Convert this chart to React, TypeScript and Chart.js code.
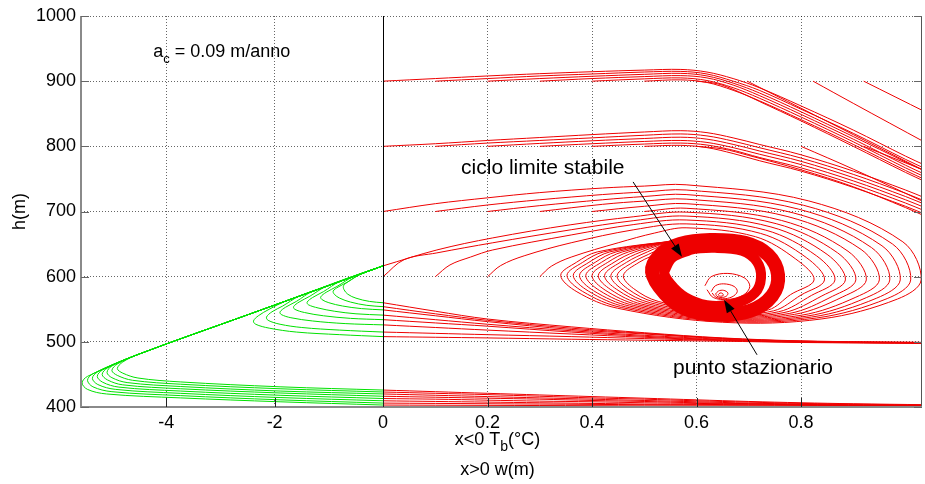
import React, { useEffect, useRef } from "react";
import { Chart, registerables } from "chart.js";

Chart.register(...registerables);

type P = [number, number];

// ---- axes ----
const TB_TO_W = 0.10383; // width of 1 °C of Tb on the shared x axis, in w units
const X_MIN_TB = -5.57;
const X_MAX_W = 1.0316;
const Y_MIN = 400;
const Y_MAX = 1000;
const Y_TICKS = [400, 500, 600, 700, 800, 900, 1000];
const X_TICKS_TB = [-4, -2];
const X_TICKS_W = [0, 0.2, 0.4, 0.6, 0.8];

// ---- green trajectories (x<0 : Tb, h) ----
const DIAG: P[] = [[0, 616.6], [-1, 586.5], [-2.5, 541.4], [-4.5, 481.2]];
const GT0: P[] = [[-5.45, 447], [-5.55, 437], [-5.45, 427], [-5.1, 420], [-3.74, 414], [-1.9, 408], [0, 403]];
const GT1: P[] = [[-5.35, 451], [-5.45, 441], [-5.35, 431], [-5.0, 423.5], [-3.74, 417.5], [-1.9, 411], [0, 406]];
const GT2: P[] = [[-5.26, 454], [-5.36, 444], [-5.26, 434.5], [-4.93, 427], [-3.74, 421], [-1.9, 414.5], [0, 409.5]];
const GT3: P[] = [[-5.17, 457], [-5.27, 447], [-5.17, 438], [-4.87, 430.5], [-3.74, 424.5], [-1.9, 418], [0, 413]];
const GT4: P[] = [[-5.08, 460], [-5.18, 450], [-5.08, 441.5], [-4.8, 434], [-3.74, 428], [-1.9, 421.5], [0, 416.5]];
const GT5: P[] = [[-5.0, 463], [-5.09, 453], [-5.0, 445], [-4.72, 437.5], [-3.74, 431.5], [-1.9, 424.5], [0, 420]];
const GT6: P[] = [[-4.9, 466], [-5.0, 456], [-4.9, 448.5], [-4.62, 441], [-3.74, 435], [-1.9, 428], [0, 423]];
const GT7: P[] = [[-4.8, 469], [-4.9, 459], [-4.8, 452], [-4.52, 444.5], [-3.74, 438.5], [-1.9, 431], [0, 426]];

const GC0: P[] = [[0, 508], [-0.8, 511], [-1.6, 515], [-2.1, 521], [-2.35, 527], [-2.39, 532], [-2.3, 540], [-2.1, 550], [-1.8, 562.4], [-1, 586.5], [0, 616.6]];
const GC1: P[] = [[0, 515], [-0.8, 518], [-1.5, 522], [-1.9, 527], [-2.12, 533], [-2.15, 538], [-2.05, 546], [-1.85, 555], [-1.55, 569.9], [-1, 586.5], [0, 616.6]];
const GC2: P[] = [[0, 526], [-0.7, 528], [-1.3, 532], [-1.7, 537], [-1.88, 542], [-1.9, 546], [-1.8, 553], [-1.6, 562], [-1.3, 577.5], [0, 616.6]];
const GC3: P[] = [[0, 534], [-0.6, 536], [-1.1, 540], [-1.45, 545], [-1.63, 550], [-1.65, 554], [-1.55, 561], [-1.35, 570], [-1.05, 585], [0, 616.6]];
const GC4: P[] = [[0, 541], [-0.5, 543], [-0.9, 547], [-1.2, 552], [-1.38, 557], [-1.4, 561], [-1.3, 568], [-1.1, 577], [-0.8, 592.5], [0, 616.6]];
const GC5: P[] = [[0, 549], [-0.4, 551], [-0.75, 555], [-1.0, 560], [-1.13, 565], [-1.15, 569], [-1.05, 576], [-0.85, 585], [-0.55, 600], [0, 616.6]];
const GC6: P[] = [[0, 554], [-0.3, 556], [-0.6, 561], [-0.8, 567], [-0.9, 573], [-0.92, 578], [-0.83, 584], [-0.65, 592], [-0.4, 604.6], [0, 616.6]];
const GC7: P[] = [[0, 560], [-0.25, 562], [-0.5, 567], [-0.65, 573], [-0.72, 580], [-0.73, 586], [-0.65, 592], [-0.5, 600], [-0.3, 607.6], [0, 616.6]];

// ---- red trajectories (x>0 : w, h) ----
const A0: P[] = [[0, 900], [0.1, 904], [0.2, 908], [0.3, 911.5], [0.4, 914.5], [0.5, 917], [0.57, 918], [0.62, 914], [0.67, 904], [0.72, 890], [0.8, 862], [0.9, 825], [1.0, 785], [1.04, 770]];
const A1: P[] = [[0.1, 900], [0.2, 904], [0.3, 908], [0.4, 911], [0.5, 914], [0.57, 915], [0.62, 911], [0.67, 900], [0.72, 886], [0.8, 857], [0.9, 820], [1.0, 780], [1.04, 765]];
const A2: P[] = [[0.2, 900], [0.3, 904], [0.4, 907.5], [0.5, 910.5], [0.57, 912], [0.62, 908], [0.67, 897], [0.72, 882], [0.8, 853], [0.9, 815], [1.0, 776], [1.04, 761]];
const A3: P[] = [[0.3, 900], [0.4, 904], [0.5, 907], [0.57, 908.5], [0.62, 905], [0.67, 894], [0.72, 878], [0.8, 849], [0.9, 811], [1.0, 771], [1.04, 756]];
const A4: P[] = [[0.4, 900], [0.5, 903.5], [0.57, 905], [0.62, 901], [0.67, 890], [0.72, 874], [0.8, 845], [0.9, 807], [1.0, 767], [1.04, 752]];
const A5: P[] = [[0.5, 900], [0.57, 902], [0.62, 898], [0.67, 886], [0.72, 870], [0.8, 841], [0.9, 803], [1.0, 763], [1.04, 748]];
const A6: P[] = [[0.6, 900], [0.64, 896], [0.68, 884], [0.72, 869], [0.8, 839], [0.9, 800], [1.0, 760], [1.04, 745]];
const A7: P[] = [[0.697, 900], [0.8, 858.5], [0.9, 818], [1.04, 761]];
const A8: P[] = [[0.823, 900], [0.9, 866], [1.04, 805]];
const A9: P[] = [[0.92, 900], [1.04, 852]];

const B0: P[] = [[0, 800], [0.1, 804], [0.2, 809], [0.3, 813.5], [0.4, 818], [0.5, 822], [0.57, 824], [0.62, 821], [0.67, 813], [0.72, 803], [0.8, 787], [0.9, 762], [1.0, 733], [1.04, 720]];
const B1: P[] = [[0.1, 800], [0.2, 805], [0.3, 809], [0.4, 813], [0.5, 817], [0.57, 819], [0.62, 816], [0.67, 808], [0.72, 798], [0.8, 782], [0.9, 757], [1.0, 728], [1.04, 715]];
const B2: P[] = [[0.2, 800], [0.3, 804.5], [0.4, 808.5], [0.5, 812], [0.57, 814], [0.62, 811], [0.67, 803], [0.72, 793], [0.8, 777], [0.9, 752], [1.0, 723], [1.04, 710]];
const B3: P[] = [[0.3, 800], [0.4, 804], [0.5, 807.5], [0.57, 809], [0.62, 806], [0.67, 798], [0.72, 788], [0.8, 772], [0.9, 747], [1.0, 718], [1.04, 705]];
const B4: P[] = [[0.4, 800], [0.5, 803.5], [0.57, 805], [0.62, 802], [0.67, 794], [0.72, 783], [0.8, 767], [0.9, 742], [1.0, 713], [1.04, 700]];
const B5: P[] = [[0.5, 800], [0.57, 801.5], [0.62, 798], [0.67, 789], [0.72, 778], [0.8, 762], [0.9, 737], [1.0, 708], [1.04, 695]];
const B6: P[] = [[0.6, 800], [0.65, 796], [0.7, 786], [0.8, 764], [0.9, 738], [1.0, 706], [1.04, 692]];
const B7: P[] = [[0.8, 800], [0.9, 765], [1.04, 713]];
const B8: P[] = [[0.92, 800], [1.04, 762]];

const C0: P[] = [[0, 700], [0.1, 712], [0.2, 721], [0.3, 729], [0.42, 736], [0.5, 739], [0.58, 741], [0.815, 716.2], [0.995, 653.4], [1.03, 595], [0.985, 565.8], [0.84, 535.2], [0.65, 530], [0.4485, 551.6], [0.371, 576.8], [0.34, 602], [0.37, 622], [0.41, 638], [0.56, 655], [0.64, 659]];
const C1: P[] = [[0.1, 700], [0.2, 710], [0.3, 718], [0.42, 726], [0.5, 730], [0.58, 733], [0.805, 709.5], [0.975, 650.2], [1.01, 595], [0.965, 566.4], [0.83, 536.6], [0.65, 531.5], [0.456, 552.7], [0.382, 577.3], [0.352, 602], [0.382, 622], [0.422, 638], [0.56, 655], [0.64, 659]];
const C2: P[] = [[0.2, 700], [0.3, 709], [0.42, 718], [0.5, 723], [0.58, 726], [0.795, 703.7], [0.955, 647.4], [0.99, 595], [0.945, 567.1], [0.82, 538], [0.65, 533], [0.464, 553.7], [0.393, 577.9], [0.364, 602], [0.394, 622], [0.434, 638], [0.56, 655], [0.64, 659]];
const C3: P[] = [[0.3, 700], [0.42, 711], [0.5, 716], [0.58, 719], [0.785, 697.9], [0.935, 644.6], [0.97, 595], [0.925, 567.8], [0.81, 539.3], [0.65, 534.5], [0.472, 554.8], [0.403, 578.4], [0.376, 602], [0.406, 622], [0.446, 638], [0.56, 655], [0.64, 659]];
const C4: P[] = [[0.4, 700], [0.5, 708], [0.58, 712], [0.775, 692.1], [0.915, 641.8], [0.95, 595], [0.905, 568.5], [0.8, 540.7], [0.65, 536], [0.48, 555.8], [0.414, 578.9], [0.388, 602], [0.418, 622], [0.458, 638], [0.56, 655], [0.64, 659]];
const C5: P[] = [[0.5, 700], [0.58, 705], [0.7625, 686.3], [0.89, 639], [0.925, 595], [0.88, 569.1], [0.7875, 542.1], [0.65, 537.5], [0.4875, 556.9], [0.425, 579.4], [0.4, 602], [0.43, 622], [0.47, 638], [0.56, 655], [0.64, 659]];
const D0: P[] = [[0, 616.6], [0.103, 641], [0.21, 659.5], [0.358, 679.5], [0.48, 692], [0.58, 699], [0.7525, 681.3], [0.87, 636.6], [0.905, 595], [0.86, 569.8], [0.7775, 543.5], [0.65, 539], [0.495, 557.9], [0.436, 580], [0.412, 602], [0.442, 622], [0.482, 638], [0.56, 655], [0.64, 659]];
const F3: P[] = [[0, 600], [0.04, 626], [0.103, 636.5], [0.21, 652], [0.36, 672], [0.48, 686], [0.58, 693], [0.7425, 676.3], [0.85, 634.2], [0.885, 595], [0.84, 570.5], [0.7675, 544.9], [0.65, 540.5], [0.503, 559], [0.447, 580.5], [0.424, 602], [0.454, 622], [0.494, 638], [0.56, 655], [0.64, 659]];
const F0: P[] = [[0.1, 600], [0.128, 618], [0.167, 630], [0.21, 641], [0.36, 664], [0.48, 680], [0.58, 687], [0.7325, 671.4], [0.83, 631.8], [0.865, 595], [0.82, 571.2], [0.7575, 546.2], [0.65, 542], [0.511, 560], [0.457, 581], [0.436, 602], [0.466, 622], [0.506, 638], [0.56, 655], [0.64, 659]];
const F1: P[] = [[0.2, 600], [0.225, 617], [0.27, 632], [0.36, 652], [0.48, 672], [0.58, 681], [0.7225, 666.4], [0.81, 629.4], [0.845, 595], [0.8, 571.8], [0.7475, 547.6], [0.65, 543.5], [0.519, 561.1], [0.468, 581.5], [0.448, 602], [0.478, 622], [0.518, 638], [0.56, 655], [0.64, 659]];
const F2: P[] = [[0.3, 600], [0.322, 616], [0.36, 630], [0.45, 652], [0.52, 667], [0.58, 675], [0.7125, 661.4], [0.79, 627], [0.825, 595], [0.78, 572.5], [0.7375, 549], [0.65, 545], [0.5265, 562.1], [0.479, 582], [0.46, 602], [0.49, 622], [0.53, 638], [0.56, 655], [0.64, 659]];

const E0: P[] = [[0, 560], [0.1, 547], [0.2, 535], [0.36, 523], [0.5, 514], [0.65, 506], [0.8, 501.5], [1.04, 499]];
const E1: P[] = [[0, 554], [0.1, 543], [0.2, 533], [0.36, 521], [0.5, 513], [0.65, 505.5], [0.8, 501], [1.04, 499]];
const E2: P[] = [[0, 549], [0.1, 540], [0.2, 531], [0.36, 519], [0.5, 512], [0.65, 505], [0.8, 501], [1.04, 498.5]];
const E3: P[] = [[0, 541], [0.1, 534], [0.2, 527], [0.36, 517], [0.5, 510], [0.65, 504], [0.8, 500.5], [1.04, 498.5]];
const E4: P[] = [[0, 534], [0.1, 529], [0.2, 524], [0.36, 515], [0.5, 508.5], [0.65, 503], [0.8, 500], [1.04, 498]];
const E5: P[] = [[0, 526], [0.1, 522], [0.2, 518], [0.36, 512], [0.5, 507], [0.65, 502.5], [0.8, 500], [1.04, 498]];
const E6: P[] = [[0, 515], [0.1, 513], [0.2, 511], [0.36, 508], [0.5, 505], [0.65, 502], [0.8, 499.5], [1.04, 498]];
const E7: P[] = [[0, 508], [0.1, 507], [0.2, 506], [0.36, 504], [0.5, 502.5], [0.65, 501], [0.8, 499], [1.04, 497.5]];

const G0: P[] = [[0, 426], [0.1, 423.5], [0.2, 421], [0.3, 418.5], [0.4, 416], [0.5, 413.5], [0.6, 411], [0.7, 408.5], [0.8, 406.5], [0.9, 405], [1.04, 403.5]];
const G1: P[] = [[0, 423], [0.1, 421], [0.2, 419], [0.3, 416.5], [0.4, 414], [0.5, 412], [0.6, 409.5], [0.7, 407.5], [0.8, 405.5], [1.04, 403]];
const G2: P[] = [[0, 420], [0.1, 418], [0.2, 416], [0.3, 414], [0.4, 412], [0.5, 410], [0.6, 408], [0.7, 406], [0.8, 404.5], [1.04, 402.5]];
const G3: P[] = [[0, 416.5], [0.1, 415], [0.2, 413.5], [0.3, 412], [0.4, 410], [0.5, 408.5], [0.6, 406.5], [0.8, 404], [1.04, 402]];
const G4: P[] = [[0, 413], [0.1, 412], [0.2, 410.5], [0.3, 409], [0.4, 408], [0.5, 406.5], [0.6, 405.5], [0.8, 403.5], [1.04, 402]];
const G5: P[] = [[0, 409.5], [0.1, 408.5], [0.2, 407.5], [0.3, 406.5], [0.4, 405.5], [0.5, 404.5], [0.6, 404], [0.8, 403], [1.04, 401.5]];
const G6: P[] = [[0, 406], [0.2, 405], [0.4, 404], [0.6, 403], [0.8, 402.5], [1.04, 401.5]];
const G7: P[] = [[0, 403], [0.2, 402.5], [0.4, 402], [0.6, 401.5], [1.04, 401]];

// limit cycle (dense band; first points repeated at the end to close smoothly) and stationary spiral
const LC_OUTER: P[] = [[0.5148, 607.4], [0.5301, 633.5], [0.5684, 650.3], [0.6258, 656.4], [0.6928, 651.9], [0.7368, 633.5], [0.756, 602.8], [0.7445, 570.6], [0.7024, 547.6], [0.6354, 541.5], [0.578, 550.7], [0.5397, 573.6], [0.5148, 607.4], [0.5301, 633.5], [0.5684, 650.3]];
const LC_INNER: P[] = [[0.5378, 607.4], [0.5531, 628.8], [0.5876, 641.1], [0.6354, 644.2], [0.6871, 639.6], [0.7158, 622.7], [0.7234, 598.2], [0.712, 575.2], [0.6775, 559.8], [0.6297, 555.2], [0.5876, 564.5], [0.5569, 582.8], [0.5378, 607.4], [0.5531, 628.8], [0.5876, 641.1]];
const S1: P[] = [[0.616, 586], [0.628, 600], [0.66, 605], [0.692, 598], [0.702, 585], [0.69, 572], [0.66, 565], [0.632, 568], [0.62, 580]];
const S2: P[] = [[0.628, 577], [0.636, 586], [0.652, 589], [0.672, 585], [0.678, 577], [0.668, 569], [0.65, 566], [0.636, 569], [0.63, 575]];
const S3: P[] = [[0.636, 573], [0.642, 578], [0.652, 579], [0.66, 575], [0.657, 570], [0.647, 568], [0.639, 570], [0.637, 573]];
const S4: P[] = [[0.641, 572], [0.645, 575], [0.65, 574], [0.651, 571], [0.646, 570], [0.642, 571]];

const GREEN_CURVES: P[][] = [
  [...DIAG, ...GT0], [...DIAG, ...GT1], [...DIAG, ...GT2], [...DIAG, ...GT3],
  [...DIAG, ...GT4], [...DIAG, ...GT5], [...DIAG, ...GT6], [...DIAG, ...GT7],
  GC0, GC1, GC2, GC3, GC4, GC5, GC6, GC7,
];
const RED_CURVES: P[][] = [
  A0, A1, A2, A3, A4, A5, A6, A7, A8, A9,
  B0, B1, B2, B3, B4, B5, B6, B7, B8,
  C0, C1, C2, C3, C4, C5, D0, F3, F0, F1, F2,
  E0, E1, E2, E3, E4, E5, E6, E7,
  G0, G1, G2, G3, G4, G5, G6, G7,
  S1, S2, S3, S4,
];
const BAND_CURVES: P[][] = [LC_OUTER, LC_INNER];
const BAND_WIDTHS = [14, 10];

// annotations (data coordinates)
const AC_LABEL = { tb: -4.24, h: 944.8 };
const ANN_CICLO = { text: "ciclo limite stabile", w: 0.1493, h: 766.9, from: [0.4785, 745.4], to: [0.5722, 630.4] };
const ANN_PUNTO = { text: "punto stazionario", w: 0.555, h: 460.1, from: [0.7158, 480.1], to: [0.6526, 564.4] };

const FONT = '"Liberation Sans", Arial, Helvetica, sans-serif';
const RED = "rgb(238,0,0)";
const GREEN = "rgb(0,225,0)";

type Part = { t: string; sub?: boolean };
function richWidth(ctx: CanvasRenderingContext2D, parts: Part[], size: number, subSize: number) {
  let w = 0;
  for (const p of parts) {
    ctx.font = `${p.sub ? subSize : size}px ${FONT}`;
    w += ctx.measureText(p.t).width;
  }
  return w;
}
function drawRich(ctx: CanvasRenderingContext2D, parts: Part[], x: number, y: number, size: number, subSize: number, subDy: number) {
  let cx = x;
  ctx.textBaseline = "middle";
  ctx.textAlign = "left";
  for (const p of parts) {
    ctx.font = `${p.sub ? subSize : size}px ${FONT}`;
    ctx.fillText(p.t, cx, p.sub ? y + subDy : y);
    cx += ctx.measureText(p.t).width;
  }
}
function drawArrow(ctx: CanvasRenderingContext2D, x1: number, y1: number, x2: number, y2: number) {
  ctx.strokeStyle = "#000";
  ctx.fillStyle = "#000";
  ctx.lineWidth = 1;
  const ang = Math.atan2(y2 - y1, x2 - x1);
  const len = 13, hw = 4.5;
  const bx = x2 - Math.cos(ang) * len, by = y2 - Math.sin(ang) * len;
  ctx.beginPath();
  ctx.moveTo(x1, y1);
  ctx.lineTo(bx, by);
  ctx.stroke();
  ctx.beginPath();
  ctx.moveTo(x2, y2);
  ctx.lineTo(bx + Math.sin(ang) * hw, by - Math.cos(ang) * hw);
  ctx.lineTo(bx - Math.sin(ang) * hw, by + Math.cos(ang) * hw);
  ctx.closePath();
  ctx.fill();
}

const decoPlugin = {
  id: "deco",
  afterDatasetsDraw(chart: any) {
    const { ctx, chartArea: a, scales } = chart;
    const xs = scales.x, ys = scales.y;
    ctx.save();
    // x = 0 separator
    const x0 = Math.round(xs.getPixelForValue(0)) + 0.5;
    ctx.strokeStyle = "#000";
    ctx.lineWidth = 1;
    ctx.beginPath();
    ctx.moveTo(x0, a.top);
    ctx.lineTo(x0, a.bottom);
    ctx.stroke();
    // right border
    ctx.strokeStyle = "#555";
    ctx.beginPath();
    ctx.moveTo(a.right - 0.5, a.top);
    ctx.lineTo(a.right - 0.5, a.bottom);
    ctx.stroke();
    // left & bottom axes
    ctx.strokeStyle = "#8a8a8a";
    ctx.lineWidth = 2;
    ctx.beginPath();
    ctx.moveTo(a.left, a.top);
    ctx.lineTo(a.left, a.bottom);
    ctx.lineTo(a.right, a.bottom);
    ctx.stroke();
    // inward ticks
    ctx.lineWidth = 1;
    ctx.strokeStyle = "#666";
    for (const v of Y_TICKS) {
      const y = Math.round(ys.getPixelForValue(v)) + 0.5;
      ctx.beginPath();
      ctx.moveTo(a.left, y); ctx.lineTo(a.left + 8, y);
      ctx.moveTo(a.right, y); ctx.lineTo(a.right - 8, y);
      ctx.stroke();
    }
    ctx.strokeStyle = "#222";
    for (const t of xs.ticks) {
      const x = Math.round(xs.getPixelForValue(t.value)) + 0.5;
      ctx.beginPath();
      ctx.moveTo(x, a.bottom); ctx.lineTo(x, a.bottom - 9);
      ctx.stroke();
    }
    // a_c label
    ctx.fillStyle = "#000";
    drawRich(ctx, [{ t: "a" }, { t: "c", sub: true }, { t: " = 0.09 m/anno" }],
      xs.getPixelForValue(AC_LABEL.tb * TB_TO_W), ys.getPixelForValue(AC_LABEL.h), 18, 13, 7);
    // annotations
    for (const an of [ANN_CICLO, ANN_PUNTO]) {
      ctx.fillStyle = "#000";
      ctx.font = `21px ${FONT}`;
      ctx.textAlign = "left";
      ctx.textBaseline = "middle";
      ctx.fillText(an.text, xs.getPixelForValue(an.w), ys.getPixelForValue(an.h));
      drawArrow(ctx, xs.getPixelForValue(an.from[0]), ys.getPixelForValue(an.from[1]),
        xs.getPixelForValue(an.to[0]), ys.getPixelForValue(an.to[1]));
    }
    ctx.restore();
  },
  afterDraw(chart: any) {
    const { ctx, chartArea: a } = chart;
    ctx.save();
    ctx.fillStyle = "#000";
    // y title
    ctx.translate(20, (a.top + a.bottom) / 2);
    ctx.rotate(-Math.PI / 2);
    ctx.font = `18px ${FONT}`;
    ctx.textAlign = "center";
    ctx.textBaseline = "middle";
    ctx.fillText("h(m)", 0, 0);
    ctx.restore();
    ctx.save();
    ctx.fillStyle = "#000";
    const cx = (a.left + a.right) / 2 - 4;
    const l1: Part[] = [{ t: "x<0 T" }, { t: "b", sub: true }, { t: "(°C)" }];
    const w1 = richWidth(ctx, l1, 18, 14);
    drawRich(ctx, l1, cx - w1 / 2, a.bottom + 33, 18, 14, 7);
    const l2: Part[] = [{ t: "x>0 w(m)" }];
    const w2 = richWidth(ctx, l2, 18, 14);
    drawRich(ctx, l2, cx - w2 / 2, a.bottom + 63, 18, 14, 7);
    ctx.restore();
  },
};

export default function App() {
  const ref = useRef<HTMLCanvasElement | null>(null);
  useEffect(() => {
    if (!ref.current) return;
    const line = (pts: { x: number; y: number }[], color: string, width: number) => ({
      data: pts,
      borderColor: color,
      borderWidth: width,
      showLine: true,
      pointRadius: 0,
      tension: 0.35,
      fill: false,
      borderJoinStyle: "round" as const,
    });
    const datasets: any[] = [
      ...GREEN_CURVES.map((c) => line(c.map(([t, h]) => ({ x: t * TB_TO_W, y: h })), GREEN, 1)),
      ...RED_CURVES.map((c) => line(c.map(([w, h]) => ({ x: w, y: h })), RED, 1)),
      ...BAND_CURVES.map((c, i) => line(c.map(([w, h]) => ({ x: w, y: h })), RED, BAND_WIDTHS[i])),
    ];
    const chart = new Chart(ref.current, {
      type: "scatter",
      data: { datasets },
      options: {
        animation: false,
        responsive: false,
        devicePixelRatio: 1,
        events: [],
        layout: { padding: { left: 0, right: 3, top: 16, bottom: 0 } },
        plugins: { legend: { display: false }, tooltip: { enabled: false } },
        scales: {
          x: {
            type: "linear",
            min: X_MIN_TB * TB_TO_W,
            max: X_MAX_W,
            afterBuildTicks: (s: any) => {
              s.ticks = [...X_TICKS_TB.map((t) => ({ value: t * TB_TO_W })), ...X_TICKS_W.map((v) => ({ value: v }))];
            },
            afterFit: (s: any) => { s.height = 77; },
            grid: { color: "rgba(0,0,0,0.6)", lineWidth: 1, drawTicks: false },
            border: { display: false, dash: [1, 2] },
            ticks: {
              autoSkip: false,
              maxRotation: 0,
              padding: 5,
              color: "#000",
              font: { family: FONT, size: 18 },
              callback: (v: any) => (v < 0 ? String(Math.round(v / TB_TO_W)) : String(Math.round(v * 10) / 10)),
            },
          },
          y: {
            type: "linear",
            min: Y_MIN,
            max: Y_MAX,
            afterBuildTicks: (s: any) => { s.ticks = Y_TICKS.map((v) => ({ value: v })); },
            afterFit: (s: any) => { s.width = 81; },
            grid: { color: "rgba(0,0,0,0.6)", lineWidth: 1, drawTicks: false },
            border: { display: false, dash: [1, 2] },
            ticks: { padding: 5, color: "#000", font: { family: FONT, size: 18 }, callback: (v: any) => String(v) },
          },
        },
      },
      plugins: [decoPlugin],
    } as any);
    return () => chart.destroy();
  }, []);
  return (
    <div style={{ position: "fixed", left: 0, top: 0, width: 925, height: 484, background: "#fff" }}>
      <canvas ref={ref} width={925} height={484} style={{ display: "block" }} />
    </div>
  );
}
